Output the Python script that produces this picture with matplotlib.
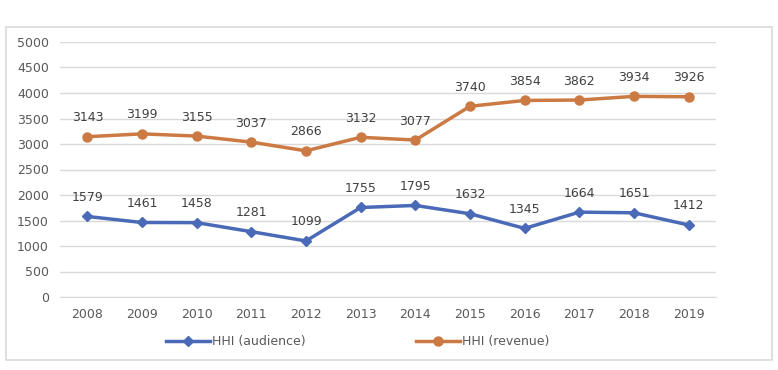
import matplotlib.pyplot as plt
from matplotlib.patches import Rectangle

years = ['2008', '2009', '2010', '2011', '2012', '2013', '2014', '2015', '2016', '2017', '2018', '2019']
audience = [1579, 1461, 1458, 1281, 1099, 1755, 1795, 1632, 1345, 1664, 1651, 1412]
revenue = [3143, 3199, 3155, 3037, 2866, 3132, 3077, 3740, 3854, 3862, 3934, 3926]

blue = '#4A6AB8'
orange = '#CB7A43'
txt = '#595959'

fig = plt.figure(figsize=(7.78, 3.70), dpi=100)
fig.patches.append(Rectangle((6 / 778, 1 - 360 / 370), 766 / 778, 333 / 370,
                             transform=fig.transFigure, fill=False,
                             edgecolor='#d9d9d9', linewidth=1.2))
ax = fig.add_axes([60 / 778, 1 - 297 / 370, 656 / 778, 255 / 370])

x = list(range(len(years)))
ax.plot(x, audience, color=blue, lw=2.5, marker='D', ms=5, label='HHI (audience)')
ax.plot(x, revenue, color=orange, lw=2.5, marker='o', ms=6.5, label='HHI (revenue)')

for i in x:
    ax.annotate(str(audience[i]), (i, audience[i]), xytext=(0, 9), textcoords='offset points',
                ha='center', va='bottom', fontsize=9, color='#404040')
    ax.annotate(str(revenue[i]), (i, revenue[i]), xytext=(0, 9), textcoords='offset points',
                ha='center', va='bottom', fontsize=9, color='#404040')

ax.set_xlim(-0.5, len(years) - 0.5)
ax.set_ylim(0, 5000)
ax.set_yticks(range(0, 5001, 500))
ax.set_xticks(x)
ax.set_xticklabels(years)
ax.grid(axis='y', color='#d9d9d9', lw=1)
ax.set_axisbelow(True)
for s in ['top', 'right', 'left']:
    ax.spines[s].set_visible(False)
ax.spines['bottom'].set_color('#d9d9d9')
ax.tick_params(length=0, colors=txt, labelsize=9, pad=8)

ax.legend(loc='upper left', bbox_to_anchor=(155 / 778, 1 - 324 / 370), bbox_transform=fig.transFigure,
          ncol=2, frameon=False, fontsize=9, labelcolor=txt, columnspacing=8.8,
          handlelength=3.5, handletextpad=0.2)

fig.savefig('out.png', dpi=100)
